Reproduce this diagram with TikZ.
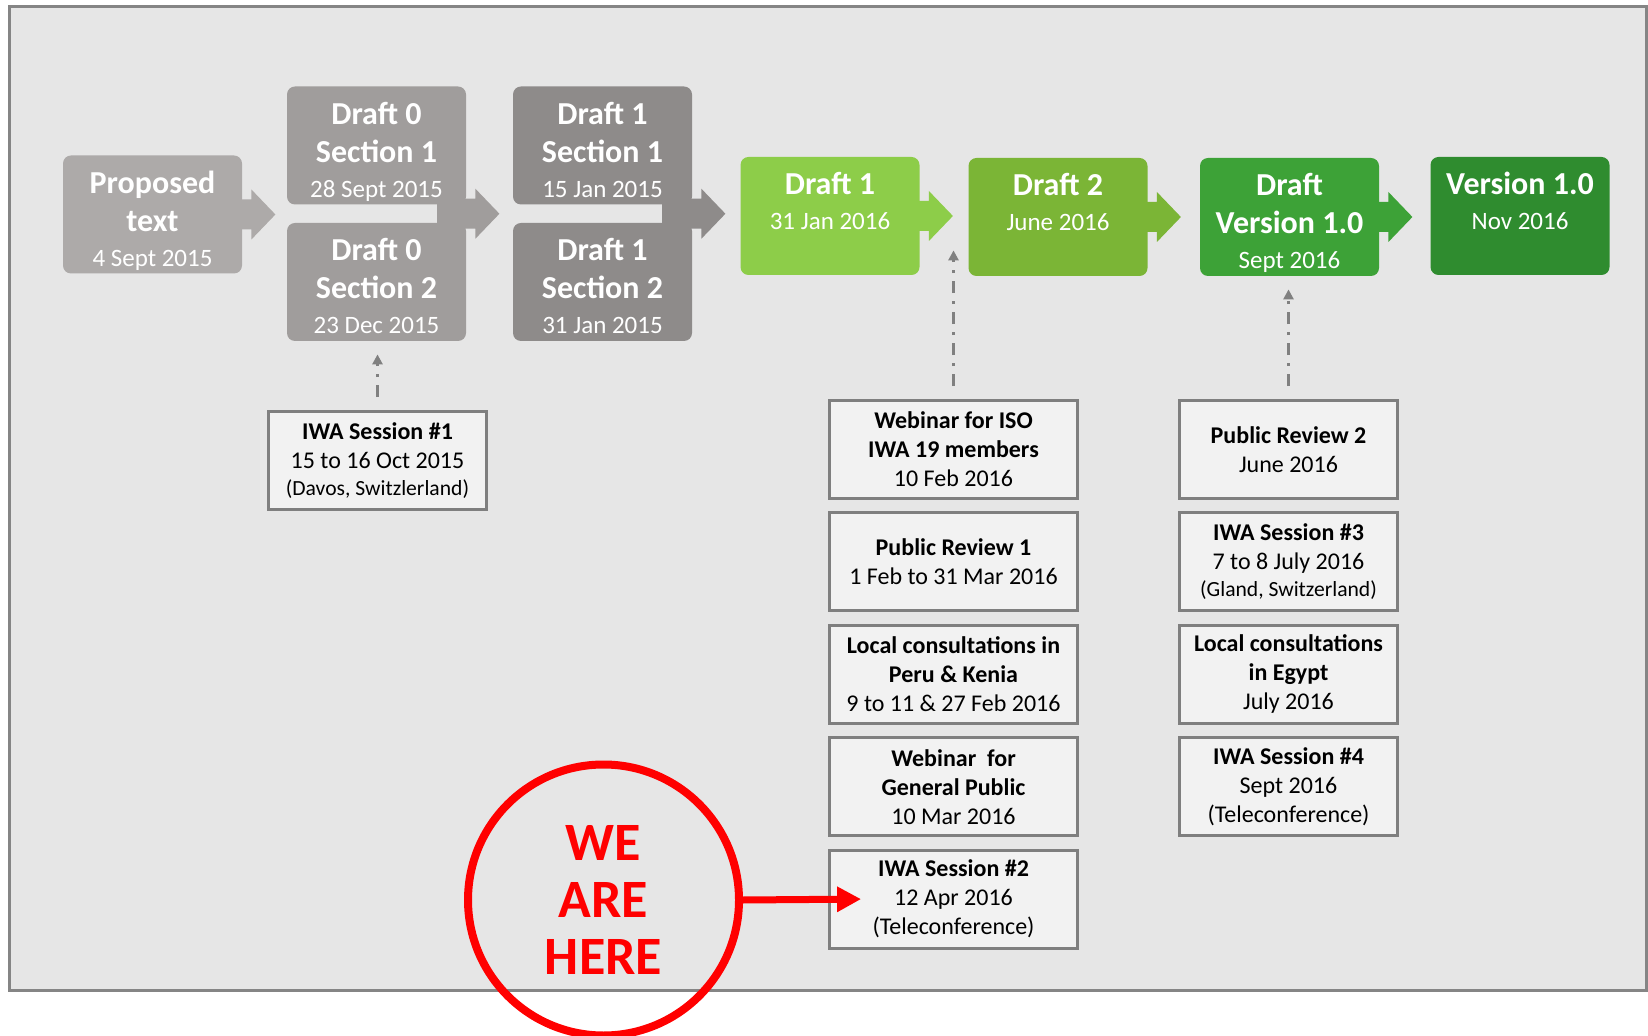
\documentclass[tikz,border=0pt]{standalone}
\usepackage{fontspec}
\setmainfont{Carlito}
\usetikzlibrary{positioning, arrows.meta, calc}

\definecolor{propfill}{HTML}{ADAAA9}
\definecolor{draftzerofill}{HTML}{A09D9C}
\definecolor{draftonefill}{HTML}{8E8B8A}
\definecolor{greenone}{HTML}{8DCD49}
\definecolor{greentwo}{HTML}{7BB536}
\definecolor{greenthree}{HTML}{3DA237}
\definecolor{greenfour}{HTML}{2F8C2F}
\definecolor{framefill}{HTML}{E6E6E6}
\definecolor{framegray}{HTML}{858585}
\definecolor{notefill}{HTML}{F2F2F2}
\definecolor{noteline}{HTML}{7F7F7F}
\definecolor{fbgray}{HTML}{808080}

\newcommand{\stagefont}{\fontsize{16}{19}\selectfont\bfseries}
\newcommand{\datefont}{\fontsize{12.5}{17.5}\selectfont\mdseries}
\newcommand{\notefont}{\fontsize{12}{14.5}\selectfont}
\newcommand{\placefont}{\fontsize{10.8}{13.5}\selectfont}
\newcommand{\herefont}{\fontsize{27}{28.5}\selectfont\bfseries}
\newcommand{\stagetext}[1]{\parbox[c][59pt][t]{89pt}{\centering\rule{0pt}{19pt}#1}}
\newcommand{\chevron}[2]{%
  \fill[#1] (#2) ++(-8,-15) -- ++(17,0) -- ++(0,-10) -- ++(24,25)
    -- ++(-24,25) -- ++(0,-10) -- ++(-17,0) -- cycle;}

\begin{document}
\begin{tikzpicture}[
    x=0.5pt, y=-0.5pt,
    stage/.style={rectangle, rounded corners=4pt, minimum width=89.5pt,
                  minimum height=59pt, inner sep=0pt, text=white, font=\stagefont},
    note/.style={rectangle, draw=noteline, line width=1.4pt, fill=notefill,
                 text width=109pt, minimum height=49pt, inner sep=0pt,
                 align=flush center, font=\notefont, text=black},
    notewide/.style={note, text width=124pt},
    feedback/.style={draw=fbgray, line width=1.3pt,
                     dash pattern=on 6pt off 4pt on 1.5pt off 4pt,
                     -{Triangle[length=5pt, width=5pt]}},
    pointer/.style={draw=red, line width=3.5pt, -{Triangle[length=12pt, width=12pt]}},
]
\useasboundingbox (0,0) rectangle (1648,1036);

% Frame
\draw[draw=framegray, fill=framefill, line width=1.5pt] (9.5,6.5) rectangle (1646.5,990.5);

% Stages
\node[stage, fill=propfill] (prop) at (152.5,214.5)
  {\stagetext{Proposed\\text\par{\datefont 4 Sept 2015\par}}};
\node[stage, fill=draftzerofill] (d0a) at (376.5,145.5)
  {\stagetext{Draft 0\\Section 1\par{\datefont 28 Sept 2015\par}}};
\node[stage, fill=draftzerofill] (d0b) at (376.5,282)
  {\stagetext{Draft 0\\Section 2\par{\datefont 23 Dec 2015\par}}};
\node[stage, fill=draftonefill] (d1a) at (602.5,145.5)
  {\stagetext{Draft 1\\Section 1\par{\datefont 15 Jan 2015\par}}};
\node[stage, fill=draftonefill] (d1b) at (602.5,282)
  {\stagetext{Draft 1\\Section 2\par{\datefont 31 Jan 2015\par}}};
\node[stage, fill=greenone] (dr1) at (830,216)
  {\stagetext{Draft 1\par{\datefont 31 Jan 2016\par}}};
\node[stage, fill=greentwo] (dr2) at (1058,217)
  {\stagetext{Draft 2\par{\datefont June 2016\par}}};
\node[stage, fill=greenthree] (drv) at (1289.5,217)
  {\stagetext{Draft\\Version 1.0\par{\datefont Sept 2016\par}}};
\node[stage, fill=greenfour] (ver) at (1520,216)
  {\stagetext{Version 1.0\par{\datefont Nov 2016\par}}};

% Stage arrows
\coordinate (d0out) at ($(d0a.south east)!0.5!(d0b.north east)$);
\coordinate (d1out) at ($(d1a.south east)!0.5!(d1b.north east)$);
\fill[draftzerofill] ([xshift=-14.5pt, yshift=1pt]d0a.south east) rectangle ([yshift=-1pt]d0b.north east);
\fill[draftonefill] ([xshift=-15pt, yshift=1pt]d1a.south east) rectangle ([yshift=-1pt]d1b.north east);
\chevron{propfill}{prop.east}
\chevron{draftzerofill}{d0out}
\chevron{draftonefill}{d1out}
\chevron{greenone}{dr1.east}
\chevron{greentwo}{dr2.east}
\chevron{greenthree}{drv.east}

% Sessions for Draft 0
\node[note] (iwa1) at (377.5,460.5)
  {\textbf{IWA Session \#1}\\15 to 16 Oct 2015\par{\placefont (Davos, Switzlerland)\par}};

% Consultations on Draft 1
\node[notewide] (web1) at (953.5,449.5)
  {\textbf{Webinar for ISO\\IWA 19 members}\\10 Feb 2016};
\node[notewide, below=5.8pt of web1] (pr1)
  {\textbf{Public Review 1}\\1 Feb to 31 Mar 2016};
\node[notewide, below=5.8pt of pr1] (lc1)
  {\textbf{Local consultations in\\Peru \& Kenia}\\9 to 11 \& 27 Feb 2016};
\node[notewide, below=5.8pt of lc1] (web2)
  {\textbf{Webinar\ \ for\\General Public}\\10 Mar 2016};
\node[notewide, below=5.8pt of web2] (iwa2)
  {\textbf{IWA Session \#2}\\12 Apr 2016\\(Teleconference)};

% Consultations on Draft 2
\node[note] (pr2) at (1288.5,449.5)
  {\textbf{Public Review 2}\\June 2016};
\node[note, below=5.8pt of pr2] (iwa3)
  {\textbf{IWA Session \#3}\\7 to 8 July 2016\par{\placefont (Gland, Switzerland)\par}};
\node[note, below=5.8pt of iwa3] (lc2)
  {\textbf{Local consultations\\in Egypt}\\July 2016};
\node[note, below=5.8pt of lc2] (iwa4)
  {\textbf{IWA Session \#4}\\Sept 2016\\(Teleconference)};

% Feedback
\draw[feedback] ([yshift=6.5pt]iwa1.north) -- ([yshift=-6.5pt]iwa1.north |- d0b.south);
\draw[feedback] ([yshift=6.5pt]web1.north) -- ([yshift=12.5pt]web1.north |- dr1.south);
\draw[feedback] ([yshift=6.5pt]pr2.north) -- ([yshift=-6.5pt]pr2.north |- drv.south);

% We are here
\node[circle, draw=red, line width=4pt, minimum size=135.5pt, inner sep=0pt,
      text=red, align=center, font=\herefont] (here) at (603.5,900) {WE\\ARE\\HERE};
\draw[pointer] (here.east) -- ([xshift=16.5pt]iwa2.west);

\end{tikzpicture}
\end{document}
